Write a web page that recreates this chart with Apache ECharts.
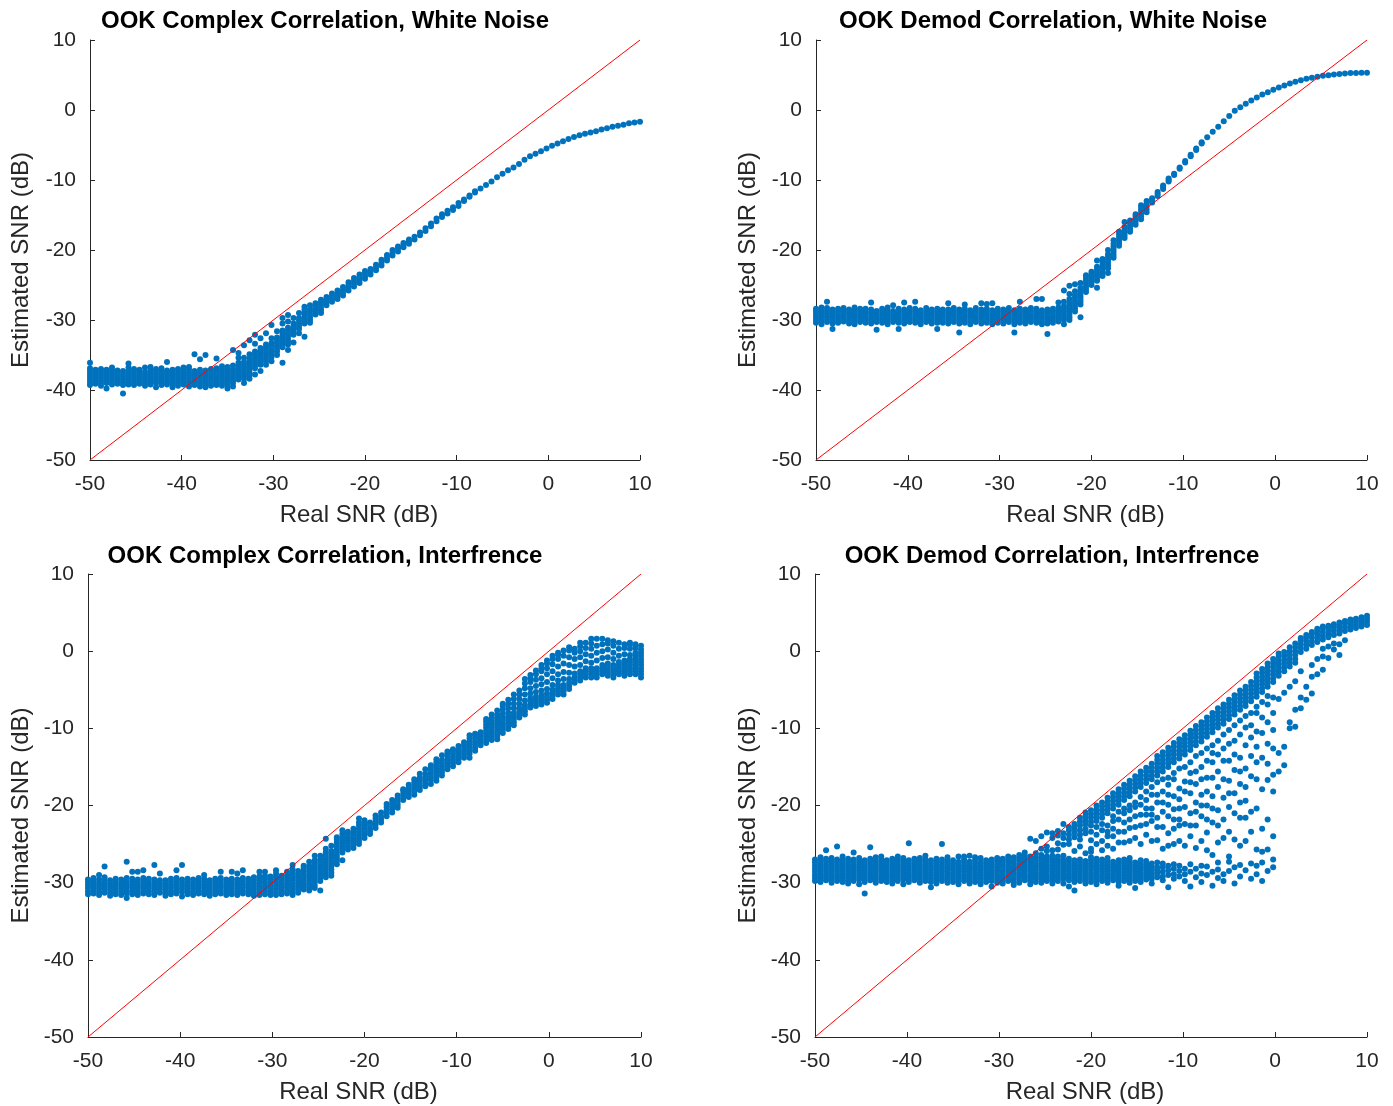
<!DOCTYPE html>
<html><head><meta charset="utf-8">
<script src="https://cdn.jsdelivr.net/npm/echarts@6/dist/echarts.min.js"></script>
<style>html,body{margin:0;padding:0;background:#fff}#c{width:1393px;height:1106px}</style>
</head><body><div id="c"></div>
<script>
// Real SNR grid (dB), one column of trials per value
const xGrid = [-50,-49.4,-48.8,-48.2,-47.6,-47,-46.4,-45.8,-45.2,-44.6,
-44,-43.4,-42.8,-42.2,-41.6,-41,-40.4,-39.8,-39.2,-38.6,
-38,-37.4,-36.8,-36.2,-35.6,-35,-34.4,-33.8,-33.2,-32.6,
-32,-31.4,-30.8,-30.2,-29.6,-29,-28.4,-27.8,-27.2,-26.6,
-26,-25.4,-24.8,-24.2,-23.6,-23,-22.4,-21.8,-21.2,-20.6,
-20,-19.4,-18.8,-18.2,-17.6,-17,-16.4,-15.8,-15.2,-14.6,
-14,-13.4,-12.8,-12.2,-11.6,-11,-10.4,-9.8,-9.2,-8.6,
-8,-7.4,-6.8,-6.2,-5.6,-5,-4.4,-3.8,-3.2,-2.6,
-2,-1.4,-0.8,-0.2,0.4,1,1.6,2.2,2.8,3.4,
4,4.6,5.2,5.8,6.4,7,7.6,8.2,8.8,9.4,10];
const refLine = [-50, 10];
const titles = ["OOK Complex Correlation, White Noise","OOK Demod Correlation, White Noise",
"OOK Complex Correlation, Interfrence","OOK Demod Correlation, Interfrence"];
const xName = "Real SNR (dB)";
const yName = "Estimated SNR (dB)";

// Estimated SNR per column: OOK Complex Correlation, White Noise
const complexWhite = [
[-39.3,-38.9,-38.5,-38.1,-37.7,-37.3,-36.9,-36.1],[-39.1,-38.7,-38.3,-37.9,-37.5,-37.1],[-39.4,-39.0,-38.6,-38.2,-37.8,-37.4,-37.0],[-39.8,-39.0,-38.6,-38.2,-37.8,-37.4,-37.1],[-39.2,-38.8,-38.4,-38.0,-37.6,-37.2,-36.8],
[-39.1,-38.7,-38.3,-37.9,-37.5,-37.2],[-40.5,-39.3,-38.9,-38.5,-38.1,-37.7,-37.3],[-39.2,-38.8,-38.4,-38.0,-37.6,-37.2,-36.8,-36.2],[-39.3,-38.9,-38.5,-38.1,-37.7,-37.3,-37.0],[-39.1,-38.7,-38.3,-37.9,-37.5,-37.1],
[-39.4,-39.0,-38.6,-38.2,-37.8,-37.4,-36.8],[-39.2,-38.8,-38.4,-38.0,-37.6,-37.2,-36.7],[-39.6,-39.0,-38.6,-38.2,-37.8,-37.4,-37.0],[-39.3,-38.9,-38.5,-38.1,-37.7,-37.3,-36.9],[-39.2,-38.8,-38.4,-38.0,-37.6,-37.2,-36.0],
[-39.6,-39.1,-38.7,-38.3,-37.9,-37.5,-37.1],[-39.4,-39.0,-38.6,-38.2,-37.8,-37.4,-37.0],[-39.2,-38.8,-38.4,-38.0,-37.6,-37.2,-36.8],[-39.5,-39.1,-38.7,-38.3,-37.9,-37.5,-37.1,-36.7],[-39.3,-38.9,-38.5,-38.1,-37.7,-37.3,-34.9],
[-39.5,-39.1,-38.7,-38.3,-37.9,-37.5,-37.1,-35.6],[-39.6,-39.2,-38.8,-38.4,-38.0,-37.6,-37.2,-35.0],[-39.4,-39.0,-38.6,-38.2,-37.8,-37.4,-37.0],[-39.3,-38.9,-38.5,-38.1,-37.7,-37.3,-36.9,-35.5],[-39.4,-39.0,-38.6,-38.2,-37.8,-37.4,-37.0,-36.6],
[-39.8,-39.2,-38.8,-38.4,-38.0,-37.6,-37.2,-36.7],[-39.5,-39.0,-38.6,-38.2,-37.8,-37.4,-37.0,-36.5,-34.3],[-38.5,-38.1,-37.7,-37.3,-36.9,-36.5,-36.1,-35.4,-34.7],[-39.0,-38.4,-38.0,-37.6,-37.2,-36.8,-36.4,-36.0,-35.4,-33.6],[-38.4,-37.9,-37.5,-37.1,-36.7,-36.3,-35.9,-35.5,-34.9,-32.9],
[-37.8,-36.9,-36.5,-36.1,-35.7,-35.3,-34.9,-34.5,-33.4,-32.1],[-37.3,-36.4,-36.0,-35.6,-35.2,-34.8,-34.4,-34.0,-32.6],[-36.4,-35.9,-35.5,-35.1,-34.7,-34.3,-33.9,-33.5,-31.9],[-35.9,-35.3,-34.9,-34.5,-34.1,-33.7,-33.3,-32.6,-30.7],[-35.0,-34.5,-34.1,-33.7,-33.3,-32.9,-32.5,-31.6],
[-36.1,-33.9,-33.5,-33.1,-32.7,-32.3,-31.9,-31.5,-30.5,-29.7],[-34.3,-33.5,-33.1,-32.7,-32.3,-31.9,-31.5,-31.1,-30.2,-29.3],[-33.2,-32.1,-31.7,-31.3,-30.9,-30.5,-29.7],[-31.9,-31.3,-30.9,-30.5,-30.1,-29.7,-29.0],[-32.4,-30.5,-30.1,-29.7,-29.3,-28.9,-28.5,-28.1],
[-30.4,-30.0,-29.6,-29.2,-28.8,-28.4,-27.9],[-29.2,-28.8,-28.4,-28.0,-27.6],[-29.0,-28.6,-28.2,-27.8,-27.4,-27.1],[-27.9,-27.5,-27.1,-26.7],[-27.4,-27.0,-26.6,-26.2],
[-27.0,-26.6,-26.2,-25.8],[-26.5,-26.1,-25.7,-25.3],[-25.8,-25.4,-25.0,-24.6],[-25.2,-24.8,-24.4,-24.0],[-24.7,-24.3,-23.9,-23.5],
[-24.1,-23.7,-23.3,-23.0],[-23.5,-23.1,-22.7],[-22.9,-22.5,-22.1],[-22.2,-21.8,-21.4],[-21.5,-21.1,-20.7],
[-20.8,-20.4,-20.0],[-20.2,-19.8,-19.5],[-19.6,-19.3,-19.0],[-19.1,-18.8,-18.5],[-18.5,-18.1],
[-17.9,-17.5],[-17.3,-16.9],[-16.6,-16.2],[-15.9,-15.5],[-15.3,-14.9],
[-14.8,-14.4],[-14.3,-13.9],[-13.7,-13.3],[-13.0,-12.8],[-12.4,-12.2],
[-11.8,-11.6],[-11.2],[-10.7],[-10.2],[-9.6],
[-9.1],[-8.6],[-8.2],[-7.7],[-7.1],
[-6.6],[-6.25],[-5.9],[-5.5],[-5.1],[-4.8],[-4.45],[-4.15],[-3.85],[-3.6],
[-3.4],[-3.2],[-3.05],[-2.8],[-2.6],[-2.4],[-2.25],[-2.1],[-1.9],[-1.78],[-1.67]];

// OOK Demod Correlation, White Noise
const demodWhite = [
[-30.4,-30.0,-29.6,-29.2,-28.8,-28.4],[-30.6,-30.2,-29.8,-29.4,-29.0,-28.6,-28.2],[-30.3,-29.9,-29.5,-29.1,-28.7,-28.3,-27.4],[-31.3,-30.5,-30.1,-29.7,-29.3,-28.9,-28.5],[-30.4,-30.0,-29.6,-29.2,-28.8,-28.4],
[-30.2,-29.8,-29.4,-29.0,-28.6,-28.3],[-30.5,-30.1,-29.7,-29.3,-28.9,-28.5],[-30.6,-30.2,-29.8,-29.4,-29.0,-28.6,-28.2],[-30.3,-29.9,-29.5,-29.1,-28.7,-28.4],[-30.4,-30.0,-29.6,-29.2,-28.8,-28.4],
[-30.5,-30.1,-29.7,-29.3,-28.9,-28.5,-27.5],[-31.4,-30.3,-29.9,-29.5,-29.1,-28.7],[-30.4,-30.0,-29.6,-29.2,-28.8,-28.4],[-30.6,-30.2,-29.8,-29.4,-29.0,-28.6,-28.2],[-30.3,-29.9,-29.5,-29.1,-28.7,-27.9],
[-31.3,-30.4,-30.0,-29.6,-29.2,-28.8,-28.4],[-30.5,-30.1,-29.7,-29.3,-28.9,-28.5,-27.5],[-30.3,-29.9,-29.5,-29.1,-28.7,-28.3],[-30.4,-30.0,-29.6,-29.2,-28.8,-28.4,-27.4],[-30.6,-30.2,-29.8,-29.4,-29.0,-28.6],
[-30.3,-29.9,-29.5,-29.1,-28.7,-28.3],[-30.5,-30.1,-29.7,-29.3,-28.9,-28.5],[-31.3,-30.4,-30.0,-29.6,-29.2,-28.8,-28.4],[-30.4,-30.0,-29.6,-29.2,-28.8,-28.5],[-30.5,-30.1,-29.7,-29.3,-28.9,-28.5,-27.6],
[-30.3,-29.9,-29.5,-29.1,-28.7,-28.3],[-31.8,-30.5,-30.1,-29.7,-29.3,-28.9,-28.5],[-30.4,-30.0,-29.6,-29.2,-28.8,-28.4,-27.8],[-30.6,-30.2,-29.8,-29.4,-29.0,-28.6],[-30.3,-29.9,-29.5,-29.1,-28.7,-28.3],
[-30.5,-30.1,-29.7,-29.3,-28.9,-28.5,-27.6],[-30.4,-30.0,-29.6,-29.2,-28.8,-28.4,-27.7],[-30.6,-30.2,-29.8,-29.4,-29.0,-28.6,-27.6],[-30.4,-30.0,-29.6,-29.2,-28.8,-28.4],[-30.5,-30.1,-29.7,-29.3,-28.9,-28.5],
[-30.3,-29.9,-29.5,-29.1,-28.7,-28.3],[-31.8,-30.6,-30.2,-29.8,-29.4,-29.0,-28.6],[-30.4,-30.0,-29.6,-29.2,-28.8,-28.4,-27.4],[-30.5,-30.1,-29.7,-29.3,-28.9,-28.5],[-30.3,-29.9,-29.5,-29.1,-28.7,-28.3],
[-30.4,-30.0,-29.6,-29.2,-28.8,-28.4,-27.0],[-30.6,-30.2,-29.8,-29.4,-29.0,-28.6,-27.0],[-32.0,-30.5,-30.1,-29.7,-29.3,-28.9,-28.5],[-30.4,-30.0,-29.6,-29.2,-28.8,-28.4],[-30.2,-29.8,-29.4,-29.0,-28.6,-28.2,-27.5],
[-30.6,-30.0,-29.6,-29.2,-28.8,-28.4,-28.0,-27.4,-25.8],[-30.0,-29.6,-29.2,-28.8,-28.4,-28.0,-27.6,-27.0,-26.3,-25.1],[-28.8,-28.4,-28.0,-27.6,-27.2,-26.8,-26.4,-25.9,-24.9],[-29.6,-27.8,-27.4,-27.0,-26.6,-26.2,-25.8,-25.4,-24.7],[-26.0,-25.6,-25.2,-24.8,-24.4,-24.0,-23.6],
[-25.0,-24.6,-24.2,-23.8,-23.4,-23.1],[-25.4,-24.4,-24.0,-23.6,-23.2,-22.8,-22.4,-21.5],[-23.7,-23.3,-22.9,-22.5,-22.1,-21.7,-21.3],[-23.3,-22.6,-22.2,-21.8,-21.4,-21.0,-20.6,-20.0],[-21.1,-20.7,-20.3,-19.9,-19.5,-19.1,-18.6],
[-19.4,-19.0,-18.6,-18.2,-17.8,-17.4],[-18.3,-17.9,-17.5,-17.1,-16.7,-16.0],[-17.4,-17.0,-16.6,-16.2,-15.8],[-16.4,-16.0,-15.6,-15.2,-14.9],[-15.6,-15.2,-14.8,-14.4,-14.0,-13.6],
[-14.6,-14.2,-13.8,-13.4,-13.0],[-13.2,-12.9,-12.6],[-12.3,-12.0,-11.7],[-11.3,-11.0,-10.8],[-10.2,-10.0,-9.8],
[-9.3,-9.1],[-8.4,-8.2],[-7.5,-7.3],[-6.6,-6.4],[-5.7,-5.5],
[-4.8,-4.6],[-3.9],[-3.1],[-2.4],[-1.6],
[-0.85],[-0.1],[0.4],[0.9],[1.35],
[1.8],[2.2],[2.55],[2.9],[3.2],[3.5],[3.8],[4.05],[4.25],[4.45],
[4.6],[4.75],[4.88],[4.98],[5.08],[5.15],[5.22],[5.27],[5.3],[5.32],[5.33]];

// OOK Complex Correlation, Interfrence
const complexInterf = [
[-31.5,-31.1,-30.7,-30.3,-29.9,-29.6],[-31.4,-31.0,-30.6,-30.2,-29.8,-29.4],[-31.6,-31.2,-30.8,-30.4,-30.0,-29.6,-29.0],[-31.3,-30.9,-30.5,-30.1,-29.7,-29.3,-27.9],[-31.7,-31.3,-30.9,-30.5,-30.1,-29.7],
[-31.5,-31.1,-30.7,-30.3,-29.9,-29.5],[-31.6,-31.2,-30.8,-30.4,-30.0,-29.6],[-32.0,-31.4,-31.0,-30.6,-30.2,-29.8,-29.4,-27.3],[-31.5,-31.1,-30.7,-30.3,-29.9,-29.5,-28.6],[-31.6,-31.2,-30.8,-30.4,-30.0,-29.6,-28.6],
[-31.4,-31.0,-30.6,-30.2,-29.8,-29.4,-28.4],[-31.5,-31.1,-30.7,-30.3,-29.9,-29.5],[-31.6,-31.2,-30.8,-30.4,-30.0,-29.6,-27.7],[-31.3,-30.9,-30.5,-30.1,-29.7,-28.8],[-31.7,-31.3,-30.9,-30.5,-30.1,-29.7],
[-31.5,-31.1,-30.7,-30.3,-29.9,-29.5],[-31.4,-31.0,-30.6,-30.2,-29.8,-29.4,-28.4],[-31.8,-31.2,-30.8,-30.4,-30.0,-29.6,-27.7],[-31.5,-31.1,-30.7,-30.3,-29.9,-29.5],[-31.6,-31.2,-30.8,-30.4,-30.0,-29.6],
[-31.4,-31.0,-30.6,-30.2,-29.8,-29.4],[-31.5,-31.1,-30.7,-30.3,-29.9,-29.5,-29.0],[-31.7,-31.3,-30.9,-30.5,-30.1,-29.7],[-31.5,-31.1,-30.7,-30.3,-29.9,-29.5],[-31.4,-31.0,-30.6,-30.2,-29.8,-29.4,-28.6],
[-31.6,-31.2,-30.8,-30.4,-30.0,-29.6],[-31.5,-31.1,-30.7,-30.3,-29.9,-29.5,-28.6],[-31.6,-31.2,-30.8,-30.4,-30.0,-29.6,-28.8],[-31.4,-31.0,-30.6,-30.2,-29.8,-29.4,-28.4],[-31.5,-31.1,-30.7,-30.3,-29.9,-29.5],
[-31.7,-31.3,-30.9,-30.5,-30.1,-29.7,-29.3],[-31.6,-31.2,-30.8,-30.4,-30.0,-29.6,-29.2,-28.6],[-31.5,-31.1,-30.7,-30.3,-29.9,-29.5,-29.1,-28.6],[-31.6,-31.2,-30.8,-30.4,-30.0,-29.6,-29.2],[-31.6,-31.2,-30.8,-30.4,-30.0,-29.6,-29.2,-28.8,-28.4],
[-31.5,-31.1,-30.7,-30.3,-29.9,-29.5,-29.1],[-31.4,-31.0,-30.6,-30.2,-29.8,-29.4,-29.0,-28.6],[-31.6,-31.2,-30.8,-30.4,-30.0,-29.6,-29.2,-28.8,-28.3,-27.7],[-31.3,-30.9,-30.5,-30.1,-29.7,-29.3,-28.9,-28.5],[-30.9,-30.5,-30.1,-29.7,-29.3,-28.9,-28.5,-28.1,-27.8],
[-31.0,-30.6,-30.2,-29.8,-29.4,-29.0,-28.6,-28.2,-27.8,-27.3],[-30.7,-30.3,-29.9,-29.5,-29.1,-28.7,-28.3,-27.9,-27.5,-27.1,-26.5],[-31.0,-29.8,-29.4,-29.0,-28.6,-28.2,-27.8,-27.4,-27.0,-26.5],[-29.3,-28.9,-28.5,-28.1,-27.7,-27.3,-26.9,-26.5,-26.1,-25.6,-24.3],[-29.1,-28.7,-28.3,-27.9,-27.5,-27.1,-26.7,-26.3,-25.9,-25.2],
[-27.6,-27.2,-26.8,-26.4,-26.0,-25.6,-25.2,-24.8,-24.4,-24.1],[-27.1,-26.1,-25.7,-25.3,-24.9,-24.5,-24.1,-23.7,-23.2],[-25.7,-25.3,-24.9,-24.5,-24.1,-23.7,-23.4],[-25.5,-25.1,-24.7,-24.3,-23.9,-23.5,-23.0],[-25.0,-24.6,-24.2,-23.8,-23.4,-23.0,-22.6,-22.2,-21.7],
[-24.2,-23.8,-23.4,-23.0,-22.6,-22.2,-21.9],[-23.7,-23.3,-22.9,-22.5,-22.2],[-22.9,-22.5,-22.1,-21.7,-21.3],[-22.2,-21.8,-21.4,-20.9],[-21.4,-21.0,-20.6,-20.2,-19.8],
[-20.9,-20.5,-20.1,-19.7,-19.3],[-20.3,-19.9,-19.5,-19.1,-18.7],[-19.3,-18.9,-18.5,-18.1,-17.9],[-18.9,-18.5,-18.1,-17.7,-17.3],[-18.6,-18.2,-17.8,-17.4,-17.0,-16.6],
[-18.0,-17.6,-17.2,-16.8,-16.4,-15.9],[-17.5,-17.1,-16.7,-16.3,-15.9,-15.3],[-17.2,-16.7,-16.3,-15.9,-15.5,-15.1,-14.8],[-16.8,-16.4,-16.0,-15.6,-15.2,-14.8,-14.4,-14.0],[-16.1,-15.7,-15.3,-14.9,-14.5,-14.1,-13.5],
[-15.3,-14.9,-14.5,-14.1,-13.7,-13.3,-13.0],[-14.9,-14.5,-14.1,-13.7,-13.3,-12.9,-12.7],[-14.4,-14.0,-13.6,-13.2,-12.8,-12.3],[-13.8,-13.4,-13.0,-12.6,-12.2,-11.8],[-13.8,-13.3,-12.9,-12.5,-12.1,-11.7,-11.3,-10.9],
[-12.9,-12.5,-12.1,-11.7,-11.3,-10.9,-10.7],[-12.2,-11.8,-11.4,-11.0,-10.6,-10.5],[-11.9,-11.5,-11.1,-10.7,-10.3,-9.9,-9.5,-9.1,-8.8],[-11.5,-11.1,-10.7,-10.3,-9.9,-9.5,-9.1,-8.7,-8.2],[-11.4,-11.0,-10.6,-10.2,-9.8,-9.4,-9.0,-8.6,-8.2,-7.7],
[-10.6,-10.2,-9.8,-9.4,-9.0,-8.6,-8.1,-7.6,-7.1,-6.8],[-10.1,-9.7,-9.3,-8.9,-8.5,-8.0,-7.4,-6.8,-6.3],[-9.6,-9.2,-8.8,-8.4,-8.0,-7.4,-6.8,-6.2,-5.6],[-8.6,-8.2,-7.8,-7.4,-6.8,-6.2,-5.6,-5.1],[-8.2,-7.8,-7.4,-7.0,-6.4,-5.6,-4.8,-4.2,-3.6],
[-7.3,-6.9,-6.5,-6.1,-5.5,-4.8,-4.0,-3.5,-3.1],[-7.1,-6.7,-6.3,-5.9,-5.3,-4.5,-3.7,-3.0,-2.5],[-6.9,-6.5,-6.1,-5.7,-5.1,-4.3,-3.5,-2.6,-2.2,-1.8],[-6.7,-6.3,-5.9,-5.5,-4.9,-4.0,-3.0,-2.2,-1.6,-1.2],[-6.2,-5.8,-5.4,-5.0,-4.4,-3.5,-2.6,-1.7,-1.0,-0.6],
[-5.6,-5.2,-4.8,-4.4,-3.8,-3.0,-2.0,-1.0,-0.5,-0.2],[-5.6,-5.2,-4.8,-4.4,-3.6,-2.7,-1.6,-0.6,0.1],[-4.9,-4.5,-4.1,-3.6,-2.8,-1.8,-0.8,0.1,0.5],[-4.1,-3.7,-3.3,-2.9,-2.0,-1.0,-0.2,0.3],[-3.8,-3.4,-3.0,-2.6,-1.8,-0.8,0.0,0.6,1.1],
[-3.4,-3.0,-2.6,-2.2,-1.3,-0.4,0.4,1.1],[-3.4,-3.0,-2.6,-2.2,-1.5,-0.6,0.3,1.0,1.6],[-3.4,-3.0,-2.6,-2.2,-1.2,-0.2,0.7,1.6],[-3.0,-2.6,-2.2,-1.8,-0.9,0.0,0.9,1.6],[-3.2,-2.8,-2.4,-2.0,-1.6,-0.8,0.2,1.0,1.4],
[-3.4,-3.0,-2.6,-2.2,-1.8,-1.0,-0.2,0.7,1.3],[-3.0,-2.6,-2.2,-1.8,-1.4,-0.6,0.3,1.1],[-3.2,-2.8,-2.4,-2.0,-1.6,-1.2,-0.4,0.4,0.9],[-3.0,-2.6,-2.2,-1.8,-1.4,-1.0,-0.5,0.3,0.8,1.1],[-3.0,-2.6,-2.2,-1.8,-1.4,-1.0,-0.6,-0.2,0.4,0.9],
[-3.4,-3.0,-2.6,-2.2,-1.8,-1.4,-1.0,-0.6,-0.2,0.2,0.7]];

// OOK Demod Correlation, Interfrence
const demodInterf = [
[-29.8,-29.4,-29.0,-28.6,-28.2,-27.8,-27.4,-27.0],[-29.9,-29.5,-29.1,-28.7,-28.3,-27.9,-27.5,-27.1,-26.7],[-29.7,-29.3,-28.9,-28.5,-28.1,-27.7,-27.3,-26.9,-25.8],[-30.0,-29.6,-29.2,-28.8,-28.4,-28.0,-27.6,-27.2,-26.8],[-29.8,-29.4,-29.0,-28.6,-28.2,-27.8,-27.4,-27.0,-25.3],
[-29.9,-29.5,-29.1,-28.7,-28.3,-27.9,-27.5,-27.1,-26.6],[-30.1,-29.7,-29.3,-28.9,-28.5,-28.1,-27.7,-27.3,-26.9],[-29.8,-29.4,-29.0,-28.6,-28.2,-27.8,-27.4,-27.0,-26.1],[-30.2,-29.6,-29.2,-28.8,-28.4,-28.0,-27.6,-27.2,-26.8],[-31.4,-29.9,-29.5,-29.1,-28.7,-28.3,-27.9,-27.5,-27.1],
[-29.7,-29.3,-28.9,-28.5,-28.1,-27.7,-27.3,-26.9,-25.4],[-30.0,-29.6,-29.2,-28.8,-28.4,-28.0,-27.6,-27.2,-26.7],[-29.8,-29.4,-29.0,-28.6,-28.2,-27.8,-27.4,-27.0,-26.6],[-29.9,-29.5,-29.1,-28.7,-28.3,-27.9,-27.5,-27.1],[-30.1,-29.7,-29.3,-28.9,-28.5,-28.1,-27.7,-27.3,-26.9],
[-29.8,-29.4,-29.0,-28.6,-28.2,-27.8,-27.4,-27.0,-26.6],[-30.2,-29.6,-29.2,-28.8,-28.4,-28.0,-27.6,-27.2,-26.8],[-29.9,-29.5,-29.1,-28.7,-28.3,-27.9,-27.5,-27.1,-24.9],[-29.7,-29.3,-28.9,-28.5,-28.1,-27.7,-27.3,-26.9],[-30.0,-29.6,-29.2,-28.8,-28.4,-28.0,-27.6,-27.2,-26.8],
[-29.8,-29.4,-29.0,-28.6,-28.2,-27.8,-27.4,-27.0,-26.5],[-30.6,-29.9,-29.5,-29.1,-28.7,-28.3,-27.9,-27.5,-27.1],[-30.1,-29.7,-29.3,-28.9,-28.5,-28.1,-27.7,-27.3,-26.9],[-29.8,-29.4,-29.0,-28.6,-28.2,-27.8,-27.4,-27.0,-25.0],[-30.0,-29.6,-29.2,-28.8,-28.4,-28.0,-27.6,-27.2,-26.7],
[-29.9,-29.5,-29.1,-28.7,-28.3,-27.9,-27.5,-27.1],[-30.2,-29.7,-29.3,-28.9,-28.5,-28.1,-27.7,-27.3,-26.6],[-29.8,-29.4,-29.0,-28.6,-28.2,-27.8,-27.4,-27.0,-26.6],[-30.1,-29.7,-29.3,-28.9,-28.5,-28.1,-27.7,-27.3,-26.5],[-29.9,-29.5,-29.1,-28.7,-28.3,-27.9,-27.5,-27.1,-26.7],
[-30.2,-29.8,-29.4,-29.0,-28.6,-28.2,-27.8,-27.4,-26.8],[-29.9,-29.5,-29.1,-28.7,-28.3,-27.9,-27.5,-27.1],[-30.5,-29.8,-29.4,-29.0,-28.6,-28.2,-27.8,-27.4,-27.0],[-30.0,-29.6,-29.2,-28.8,-28.4,-28.0,-27.6,-27.2,-26.8],[-30.1,-29.7,-29.3,-28.9,-28.5,-28.1,-27.7,-27.3,-26.9],
[-29.8,-29.4,-29.0,-28.6,-28.2,-27.8,-27.4,-27.0,-26.6],[-30.3,-29.9,-29.5,-29.1,-28.7,-28.3,-27.9,-27.5,-27.1,-26.7],[-30.0,-29.6,-29.2,-28.8,-28.4,-28.0,-27.6,-27.2,-26.8,-26.4],[-29.7,-29.3,-28.9,-28.5,-28.1,-27.7,-27.3,-26.9,-26.5,-26.1],[-30.2,-29.8,-29.4,-29.0,-28.6,-28.2,-27.8,-27.4,-27.0,-26.6,-24.3],
[-29.9,-29.5,-29.1,-28.7,-28.3,-27.9,-27.5,-27.1,-26.7,-26.2,-24.6],[-30.0,-29.6,-29.2,-28.8,-28.4,-28.0,-27.6,-27.2,-26.8,-26.4,-25.6,-24.0],[-29.8,-29.4,-29.0,-28.6,-28.2,-27.8,-27.4,-27.0,-26.6,-25.9,-25.3,-23.5],[-30.1,-29.7,-29.3,-28.9,-28.5,-28.1,-27.7,-27.3,-26.9,-26.5,-25.8,-24.2,-23.6],[-29.8,-29.4,-29.0,-28.6,-28.2,-27.8,-27.4,-27.0,-26.6,-25.7,-24.9,-23.9,-23.3],
[-30.1,-29.5,-29.1,-28.7,-28.3,-27.9,-27.5,-27.1,-26.5,-25.1,-24.2,-23.6,-22.4],[-30.5,-29.7,-29.3,-28.9,-28.5,-28.1,-27.7,-27.3,-26.9,-25.0,-24.4,-23.8,-23.2,-22.8],[-31.0,-29.9,-29.5,-29.1,-28.7,-28.3,-27.9,-27.5,-27.1,-25.9,-24.1,-23.5,-22.9,-22.4],[-29.8,-29.4,-29.0,-28.6,-28.2,-27.8,-27.4,-27.0,-25.3,-24.4,-23.8,-23.2,-22.6,-22.1,-21.6],[-30.1,-29.6,-29.2,-28.8,-28.4,-28.0,-27.6,-27.2,-26.2,-23.6,-23.0,-22.4,-21.9,-21.4,-20.9],
[-29.9,-29.5,-29.1,-28.7,-28.3,-27.9,-27.5,-27.1,-26.7,-26.0,-25.6,-24.5,-23.4,-22.6,-22.1,-21.6,-21.1,-20.6],
[-30.2,-29.7,-29.3,-28.9,-28.5,-28.1,-27.7,-27.3,-26.9,-25.0,-23.8,-22.8,-22.0,-21.5,-21.0,-20.5,-20.0],
[-29.8,-29.4,-29.0,-28.6,-28.2,-27.8,-27.4,-27.0,-25.8,-24.6,-23.2,-22.4,-21.6,-21.1,-20.6,-20.1,-19.6],
[-30.0,-29.6,-29.2,-28.8,-28.4,-28.0,-27.6,-27.2,-26.8,-25.2,-24.0,-23.4,-22.6,-21.0,-20.5,-20.0,-19.5,-19.0],
[-29.7,-29.3,-28.9,-28.5,-28.1,-27.7,-27.3,-25.6,-24.0,-23.0,-22.0,-21.4,-20.4,-19.9,-19.4,-18.9,-18.4],
[-30.4,-29.9,-29.5,-29.1,-28.7,-28.3,-27.9,-27.5,-27.1,-24.8,-23.4,-21.8,-20.8,-19.9,-19.4,-18.9,-18.4,-17.9],
[-29.8,-29.4,-29.0,-28.6,-28.2,-27.8,-27.4,-27.0,-24.8,-23.4,-22.2,-21.0,-20.4,-19.3,-18.8,-18.3,-17.8,-17.3],
[-30.0,-29.6,-29.2,-28.8,-28.4,-28.0,-27.6,-27.2,-26.8,-24.6,-22.9,-21.8,-20.6,-20.0,-18.8,-18.3,-17.8,-17.3,-16.8],
[-30.7,-29.8,-29.4,-29.0,-28.6,-28.2,-27.8,-27.4,-24.2,-22.8,-21.4,-20.2,-19.6,-18.2,-17.7,-17.2,-16.7,-16.2],
[-29.9,-29.5,-29.1,-28.7,-28.3,-27.9,-27.5,-27.1,-25.0,-22.6,-21.2,-19.9,-18.9,-17.6,-17.1,-16.6,-16.1,-15.6],
[-29.6,-29.2,-28.8,-28.4,-28.0,-27.6,-27.2,-23.8,-22.4,-21.2,-20.4,-19.3,-18.2,-17.1,-16.6,-16.1,-15.6,-15.1],
[-30.1,-29.5,-29.1,-28.7,-28.3,-27.9,-27.5,-24.6,-22.0,-21.2,-20.4,-18.6,-17.6,-16.6,-16.1,-15.6,-15.1,-14.6],
[-29.3,-28.8,-28.4,-28.0,-27.4,-24.5,-22.8,-21.6,-19.6,-18.6,-17.0,-16.1,-15.6,-15.1,-14.6,-14.1,-13.6],
[-29.7,-29.2,-28.6,-28.0,-27.5,-25.6,-22.8,-20.8,-19.6,-18.2,-16.6,-15.6,-15.1,-14.6,-14.1,-13.6,-13.1],
[-30.6,-29.0,-28.4,-27.8,-25.2,-23.6,-21.4,-19.9,-18.6,-17.3,-16.4,-15.0,-14.5,-14.0,-13.5,-13.0,-12.5],
[-29.5,-28.9,-28.2,-27.6,-25.0,-23.0,-21.8,-20.5,-18.8,-16.6,-15.8,-14.4,-13.9,-13.4,-12.9,-12.4,-11.9],
[-29.2,-28.5,-27.8,-24.6,-22.6,-21.8,-20.4,-19.2,-17.8,-15.2,-13.9,-13.4,-12.9,-12.4,-11.9,-11.4],
[-29.8,-28.9,-28.2,-25.2,-22.4,-20.2,-18.2,-16.9,-15.0,-13.4,-12.9,-12.4,-11.9,-11.4,-10.9],
[-30.5,-28.6,-27.6,-24.0,-22.6,-21.0,-18.4,-17.0,-15.8,-14.4,-12.8,-12.3,-11.8,-11.3,-10.8,-10.3],
[-29.3,-28.2,-25.5,-22.6,-20.8,-19.6,-17.2,-15.6,-13.6,-12.2,-11.7,-11.2,-10.7,-10.2,-9.7],
[-29.9,-28.8,-27.8,-24.6,-21.4,-20.0,-18.6,-16.6,-15.0,-13.2,-11.7,-11.2,-10.7,-10.2,-9.7,-9.2],
[-29.0,-27.9,-25.8,-23.5,-21.8,-20.0,-18.2,-16.4,-14.2,-12.6,-11.1,-10.6,-10.1,-9.6,-9.1,-8.6],
[-30.4,-28.6,-26.4,-22.2,-20.4,-18.8,-16.4,-14.4,-13.2,-12.2,-10.5,-10.0,-9.5,-9.0,-8.5,-8.0],
[-29.4,-28.3,-27.4,-24.8,-22.6,-20.6,-17.6,-15.6,-13.4,-11.6,-9.9,-9.4,-8.9,-8.4,-7.9,-7.4],
[-29.8,-28.9,-24.2,-21.8,-19.0,-16.6,-14.2,-12.6,-10.8,-9.4,-8.9,-8.4,-7.9,-7.4,-6.9],
[-28.5,-27.3,-26.6,-23.4,-20.2,-18.4,-16.8,-14.2,-12.0,-10.2,-8.8,-8.3,-7.8,-7.3,-6.8,-6.3],
[-30.1,-28.0,-24.4,-21.0,-18.4,-15.4,-13.4,-11.6,-9.6,-8.2,-7.7,-7.2,-6.7,-6.2,-5.7],
[-29.2,-27.7,-25.2,-21.6,-19.6,-17.2,-15.6,-13.8,-10.8,-9.0,-7.6,-7.1,-6.6,-6.1,-5.6,-5.1],
[-28.4,-24.6,-21.6,-19.4,-17.6,-15.2,-12.2,-9.9,-8.4,-7.1,-6.6,-6.1,-5.6,-5.1,-4.6],
[-29.5,-27.5,-23.4,-20.8,-16.2,-13.6,-11.2,-9.6,-8.0,-6.5,-6.0,-5.5,-5.0,-4.5,-4.0],
[-28.9,-27.8,-25.7,-20.4,-16.6,-14.4,-12.4,-10.4,-8.0,-7.2,-5.9,-5.4,-4.9,-4.4,-3.9,-3.4,-2.9],
[-29.8,-27.4,-26.0,-23.0,-17.9,-13.8,-10.6,-8.6,-6.6,-5.3,-4.8,-4.3,-3.8,-3.3,-2.8,-2.3],
[-28.5,-25.7,-21.8,-16.7,-14.6,-12.0,-9.2,-6.9,-5.8,-4.6,-4.1,-3.6,-3.1,-2.6,-2.1,-1.6],
[-28.0,-27.0,-24.0,-18.2,-16.0,-12.6,-10.2,-8.0,-6.0,-4.0,-3.5,-3.0,-2.5,-2.0,-1.5,-1.0],
[-15.6,-13.2,-6.2,-3.2,-2.7,-2.2,-1.7,-1.2,-0.7,-0.3],
[-14.8,-12.4,-5.4,-2.6,-2.1,-1.6,-1.1,-0.6,-0.1],
[-10.0,-9.2,-4.6,-2.0,-1.5,-1.0,-0.5,0.0,0.5],
[-9.8,-7.6,-3.9,-1.5,-1.0,-0.5,0.0,0.5,1.0],
[-7.4,-6.0,-2.6,-0.1,0.4,0.9,1.4,1.7],
[-6.3,-4.6,0.3,0.8,1.3,1.8,2.1],
[-5.5,-3.3,-1.8,0.8,1.3,1.8,2.3,2.5],
[-3.0,-1.0,1.2,1.7,2.2,2.7,2.9],
[-2.4,-0.7,0.3,1.5,2.0,2.5,3.0,3.2],
[-0.9,0.6,1.8,2.3,2.8,3.3],
[0.2,1.0,2.1,2.6,3.1,3.5],
[-0.5,0.9,2.3,2.8,3.3,3.7],
[1.4,2.6,3.1,3.6,3.9],
[2.8,3.2,3.6,4.0,4.1],
[3.0,3.4,3.8,4.2],
[3.2,3.6,4.0,4.4],
[3.4,3.8,4.2,4.6]];

function toPoints(cols){
  const pts=[];
  cols.forEach((col,i)=>{ if(i<xGrid.length) col.forEach(y=>pts.push([xGrid[i],y])); });
  return pts;
}

const FONT='"Liberation Sans", Arial, Helvetica, sans-serif';
const AX='#262626';
const grids=[
  {left:90, top:40, width:550, height:420},
  {left:816, top:40, width:551, height:420},
  {left:88, top:574, width:553, height:463},
  {left:815, top:574, width:552, height:463}
];
const yGaps=[57,56,55,55];
const titlePos=[[320,4],[1048,4],[320,539],[1047,539]];
const dataSets=[complexWhite,demodWhite,complexInterf,demodInterf];

const xAxes=[],yAxes=[],series=[],titleOpts=[];
grids.forEach((g,k)=>{
  xAxes.push({gridIndex:k,type:'value',min:refLine[0],max:refLine[1],interval:10,
    name:xName,nameLocation:'middle',nameGap:43,
    nameTextStyle:{fontSize:24,color:AX,fontFamily:FONT,padding:[0,12,0,0]},
    axisLine:{show:true,onZero:false,lineStyle:{color:AX,width:1}},
    axisTick:{show:true,inside:true,length:5,lineStyle:{color:AX,width:1}},
    axisLabel:{fontSize:21,color:AX,fontFamily:FONT,margin:14},
    splitLine:{show:false}});
  yAxes.push({gridIndex:k,type:'value',min:refLine[0],max:refLine[1],interval:10,
    name:yName,nameLocation:'middle',nameGap:yGaps[k],nameRotate:90,
    nameTextStyle:{fontSize:24,color:AX,fontFamily:FONT,padding:[0,20,0,0]},
    axisLine:{show:true,onZero:false,lineStyle:{color:AX,width:1}},
    axisTick:{show:true,inside:true,length:5,lineStyle:{color:AX,width:1}},
    axisLabel:{fontSize:21,color:AX,fontFamily:FONT,margin:14},
    splitLine:{show:false}});
  series.push({type:'scatter',xAxisIndex:k,yAxisIndex:k,data:toPoints(dataSets[k]),
    symbol:'circle',symbolSize:6,clip:false,itemStyle:{color:'#0072BD',opacity:1},z:2,silent:true});
  series.push({type:'line',xAxisIndex:k,yAxisIndex:k,
    data:[[refLine[0],refLine[0]],[refLine[1],refLine[1]]],
    symbol:'none',lineStyle:{color:'#ff0000',width:1},z:3,silent:true});
  titleOpts.push({text:titles[k],left:titlePos[k][0],top:titlePos[k][1],textAlign:'center',
    textStyle:{fontSize:24,fontWeight:'bold',color:'#000',fontFamily:FONT}});
});

const chart=echarts.init(document.getElementById('c'),null,{renderer:'canvas'});
chart.setOption({backgroundColor:'#fff',animation:false,title:titleOpts,grid:grids,
  xAxis:xAxes,yAxis:yAxes,series:series});
</script></body></html>
